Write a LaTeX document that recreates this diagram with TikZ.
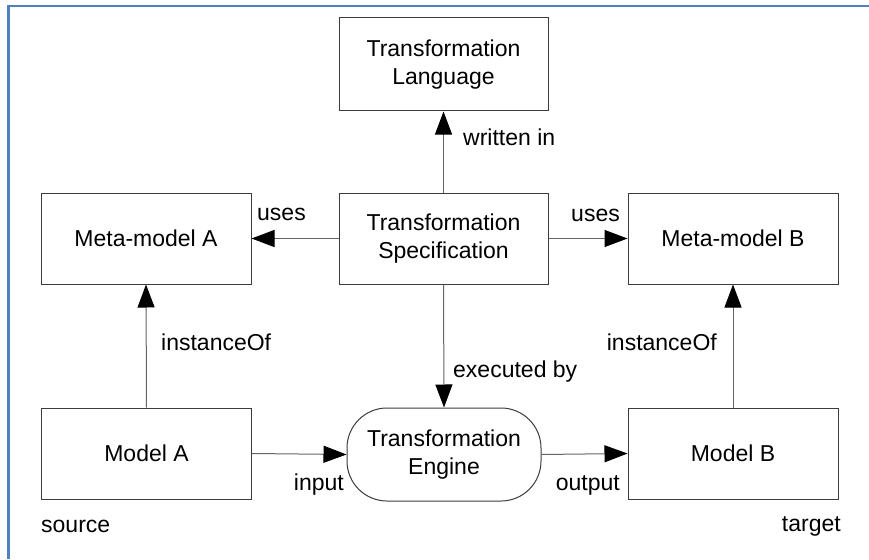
\documentclass[tikz,border=0pt]{standalone}
\usepackage{fontspec}
\setmainfont{Liberation Sans}
\usetikzlibrary{arrows.meta}
\definecolor{framebl}{RGB}{79,129,189}
\definecolor{boxline}{RGB}{60,60,60}
\definecolor{linkline}{RGB}{100,100,100}
\begin{document}
\begin{tikzpicture}[x=1pt,y=-1pt,
  txt/.style={font=\fontsize{23}{27.6}\selectfont},
  block/.style={txt,draw=boxline,line width=1pt,fill=white,align=center,
    minimum width=210pt,minimum height=91pt,inner sep=0pt},
  engine/.style={block,rounded corners=40pt,minimum width=194pt,minimum height=93pt},
  link/.style={draw=linkline,line width=1pt,-{Triangle[length=23pt,width=17pt,color=black]}},
  lbl/.style={txt,inner sep=0pt}]
\useasboundingbox (0,0) rectangle (869,559);
% page frame
\draw[framebl,line width=2.5pt] (8.7,559) -- (8.7,6) -- (869,6);

% blocks
\node[block,minimum width=209pt,minimum height=93pt] (lang) at (443.5,64.5) {Transformation\\Language};
\node[block,minimum width=209pt] (spec) at (443.5,238.5) {Transformation\\Specification};
\node[block] (metaA) at (146,238.5) {Meta-model A};
\node[block] (metaB) at (733,238.5) {Meta-model B};
\node[block] (modelA) at (146.5,453.5) {Model A};
\node[block] (modelB) at (733,453.5) {Model B};
\node[engine] (eng) at (444,454.5) {Transformation\\Engine};

% relations
\draw[link] (spec.north) -- (lang.south);
\draw[link] (spec.west) -- (metaA.east);
\draw[link] (spec.east) -- (metaB.west);
\draw[link] (modelA.north) -- (metaA.south);
\draw[link] (modelB.north) -- (metaB.south);
\draw[link] (spec.south) -- (eng.north);
\draw[link] (modelA.east) -- (eng.west);
\draw[link] (eng.east) -- (modelB.west);

% relation labels
\node[lbl,anchor=base west] (lWritten) at (463,145) {written in};
\node[lbl,anchor=base west] (lUsesA) at (257,220) {uses};
\node[lbl,anchor=base east] (lUsesB) at (620,221) {uses};
\node[lbl,anchor=base west] (lInstA) at (161,350) {instanceOf};
\node[lbl,anchor=base east] (lInstB) at (717,350) {instanceOf};
\node[lbl,anchor=base west] (lExec) at (453,377) {executed by};
\node[lbl,anchor=base east] (lInput) at (344,490) {input};
\node[lbl,anchor=base east] (lOutput) at (620,490) {output};
\node[lbl,anchor=base west] (lSource) at (41,532) {source};
\node[lbl,anchor=base east] (lTarget) at (841,531) {target};
\end{tikzpicture}
\end{document}
